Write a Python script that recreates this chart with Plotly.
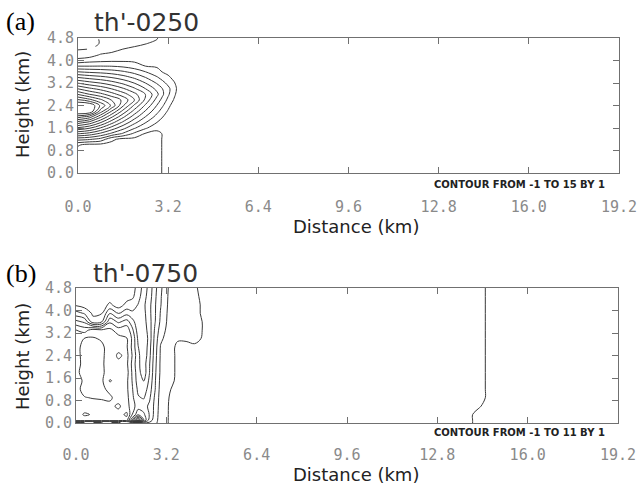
import plotly.graph_objects as go

# ---------------- panel (a): th' at t = 0250 ----------------
xa = [0, 0.4, 0.8, 1.2, 1.6, 2.0, 2.4, 2.8, 3.0, 3.2, 3.4, 3.6, 4.0, 19.2]
ya = [0, 0.4, 0.8, 1.0, 1.2, 1.4, 1.6, 1.8, 2.0, 2.2, 2.4, 2.6, 2.8, 3.0,
      3.2, 3.4, 3.6, 3.8, 4.0, 4.2, 4.4, 4.6, 4.8]
theta_a = [
    [-0.3, -0.3, -0.3, -0.3, -0.3, -0.3, -0.3, -0.3, 0.05, 0.3, 0.3, 0.3, 0.3, 0.3],
    [-0.3, -0.3, -0.3, -0.3, -0.3, -0.3, -0.3, -0.3, 0.05, 0.3, 0.3, 0.3, 0.3, 0.3],
    [-0.3, -0.3, -0.3, -0.3, -0.3, -0.3, -0.3, -0.3, 0.05, 0.3, 0.3, 0.3, 0.3, 0.3],
    [0.1, -0.3, -0.3, -0.3, -0.3, -0.3, -0.3, -0.3, 0.05, 0.3, 0.3, 0.3, 0.3, 0.3],
    [2.36, 2.13, 1.65, 0.2, -0.3, -0.3, -0.3, -0.3, 0.05, 0.3, 0.3, 0.3, 0.3, 0.3],
    [5.09, 4.64, 3.80, 2.79, 1.87, 0.8, -0.1, -0.3, 0.05, 0.3, 0.3, 0.3, 0.3, 0.3],
    [7.81, 7.15, 5.95, 4.58, 3.33, 2.12, 1.14, 0.29, 0.05, 0.3, 0.3, 0.3, 0.3, 0.3],
    [10.53, 9.67, 8.11, 6.37, 4.79, 3.30, 2.05, 1.01, 0.58, 0.3, 0.3, 0.3, 0.3, 0.3],
    [13.5, 12.6, 10.26, 8.16, 6.24, 4.48, 2.97, 1.65, 1.05, 0.42, 0.3, 0.3, 0.3, 0.3],
    [16.4, 16.2, 12.6, 9.95, 7.70, 5.65, 3.89, 2.31, 1.59, 0.88, 0.3, 0.3, 0.3, 0.3],
    [16.3, 16.1, 13.8, 11.74, 9.15, 6.83, 4.80, 2.96, 2.12, 1.32, 0.49, 0.3, 0.3, 0.3],
    [14.1, 13.3, 12.2, 10.91, 9.76, 8.01, 5.72, 3.62, 2.66, 1.74, 0.95, 0.3, 0.3, 0.3],
    [11.91, 11.0, 10.30, 9.42, 8.44, 7.31, 5.96, 4.27, 3.19, 2.17, 1.24, 0.45, 0.3, 0.3],
    [9.93, 9.20, 8.64, 7.93, 7.11, 6.14, 4.97, 3.69, 2.99, 2.25, 1.45, 0.5, 0.3, 0.3],
    [7.94, 7.40, 6.98, 6.44, 5.78, 4.97, 3.98, 2.90, 2.30, 1.72, 1.13, 0.45, 0.3, 0.3],
    [5.96, 5.60, 5.32, 4.95, 4.45, 3.80, 2.98, 2.11, 1.62, 1.19, 0.72, 0.3, 0.3, 0.3],
    [3.98, 3.79, 3.66, 3.46, 3.12, 2.64, 1.99, 1.32, 0.95, 0.70, 0.3, 0.3, 0.3, 0.3],
    [1.99, 1.99, 2.01, 1.97, 1.80, 1.47, 0.99, 0.89, 0.49, 0.3, 0.3, 0.3, 0.3, 0.3],
    [0.33, 0.61, 0.74, 0.82, 0.84, 0.81, 0.75, 0.70, 0.3, 0.3, 0.3, 0.3, 0.3, 0.3],
    [-0.6, -0.5, 0.10, 0.31, 0.43, 0.49, 0.5, 0.51, 0.3, 0.3, 0.3, 0.3, 0.3, 0.3],
    [-1.05, -0.98, -0.7, -0.4, 0.02, 0.17, 0.25, 0.33, 0.3, 0.3, 0.3, 0.3, 0.3, 0.3],
    [-1.4, -1.3, -0.95, -0.6, -0.4, -0.2, -0.02, 0.14, 0.3, 0.3, 0.3, 0.3, 0.3, 0.3],
    [-1.5, -1.4, -0.9, -0.7, -0.5, -0.3, -0.2, -0.05, 0.3, 0.3, 0.3, 0.3, 0.3, 0.3],
]
levels_a = (-1, 15, 1)

# ---------------- panel (b): th' at t = 0750 ----------------
xb = [0, 0.3, 0.6, 0.9, 1.2, 1.5, 1.8, 2.0, 2.2, 2.4, 2.6, 2.8, 3.0, 3.3,
      3.6, 3.9, 4.2, 4.5, 4.8, 6.0, 14.0, 14.3, 14.6, 19.2]
yb = [0, 0.1, 0.3, 0.6, 0.9, 1.2, 1.5, 1.8, 2.1, 2.4, 2.7, 3.0, 3.3, 3.6,
      3.9, 4.2, 4.5, 4.8]
theta_b = [
    [-1.5, -1.5, -1.5, -1.5, -1.5, -1.5, -1.5, -1.5, -1.2, 1.95, 1.8, 1.3, 0.4, -0.05, -0.2, -0.2, -0.2, -0.2, -0.2, -0.2, -0.02, 0.1, 0.1, 0.1],
    [1.4, 1.4, 1.4, 1.4, 1.4, 1.4, 1.4, 4.95, 9.5, 5.05, 2.5, 1.5, 0.4, -0.05, -0.2, -0.2, -0.2, -0.2, -0.2, -0.2, -0.02, 0.1, 0.1, 0.1],
    [1.4, 2.15, 1.9, 1.4, 1.5, 1.4, 0.8, 3.05, 4.8, 4.2, 2.95, 1.6, 0.45, -0.05, -0.2, -0.2, -0.2, -0.2, -0.2, -0.2, -0.02, 0.1, 0.1, 0.1],
    [1.4, 1.4, 1.4, 1.35, 1.3, 0.8, 1.6, 2.6, 3.5, 3.4, 2.8, 1.7, 0.5, -0.05, -0.2, -0.2, -0.2, -0.2, -0.2, -0.2, -0.2, -0.02, 0.1, 0.1],
    [1.3, 1.05, 0.95, 0.9, 0.8, 1.5, 1.7, 2.8, 3.9, 4.1, 3.2, 1.8, 0.55, -0.01, -0.2, -0.2, -0.2, -0.2, -0.2, -0.2, -0.2, -0.2, 0.1, 0.1],
    [1.3, 0.7, 0.6, 0.7, 1.3, 1.5, 1.8, 2.95, 4.2, 4.6, 3.5, 2.05, 0.6, 0.05, -0.2, -0.2, -0.2, -0.2, -0.2, -0.2, -0.2, -0.2, 0.1, 0.1],
    [1.5, 0.8, 0.6, 0.75, 2.1, 1.6, 1.8, 3.1, 4.5, 5.05, 3.8, 2.1, 0.7, 0.3, -0.2, -0.2, -0.2, -0.2, -0.2, -0.2, -0.2, -0.2, 0.1, 0.1],
    [1.25, 0.6, 0.6, 0.8, 1.4, 1.5, 1.6, 3.2, 4.6, 5.6, 4.05, 2.2, 0.8, 0.4, -0.2, -0.2, -0.2, -0.2, -0.2, -0.2, -0.2, -0.2, 0.1, 0.1],
    [1.3, 0.75, 0.6, 0.8, 1.5, 1.7, 1.8, 3.3, 4.8, 5.5, 4.1, 2.3, 0.8, 0.4, -0.2, -0.2, -0.2, -0.2, -0.2, -0.2, -0.2, -0.2, 0.1, 0.1],
    [1.4, 0.6, 0.6, 0.85, 1.3, 2.2, 1.7, 3.1, 4.7, 5.8, 4.3, 2.4, 0.85, 0.4, -0.2, -0.2, -0.2, -0.2, -0.2, -0.2, -0.2, -0.2, 0.1, 0.1],
    [1.3, 0.7, 0.6, 0.8, 1.4, 1.6, 1.9, 3.3, 4.95, 5.9, 4.4, 2.5, 0.9, 0.4, -0.2, -0.2, -0.2, -0.2, -0.2, -0.2, -0.2, -0.2, 0.1, 0.1],
    [1.5, 0.95, 0.9, 1.1, 1.5, 1.6, 1.95, 3.2, 5.2, 5.9, 4.6, 2.6, 1.2, 0.5, 0.1, 0.1, 0.3, -0.1, -0.2, -0.2, -0.2, -0.2, 0.1, 0.1],
    [1.95, 2.4, 1.5, 1.8, 1.7, 2.5, 2.3, 3.8, 5.5, 5.6, 4.5, 2.8, 1.5, 0.6, 0.55, 0.5, 0.45, -0.05, -0.2, -0.2, -0.2, -0.2, 0.1, 0.1],
    [3.7, 4.2, 6.6, 6.2, 3.2, 4.2, 3.6, 4.6, 5.8, 5.4, 4.4, 3.05, 1.8, 0.65, 0.6, 0.55, 0.45, -0.05, -0.2, -0.2, -0.2, -0.2, 0.1, 0.1],
    [5.6, 6.1, 7.2, 7.1, 5.05, 6.1, 5.3, 5.8, 5.9, 5.3, 4.3, 3.1, 1.9, 0.7, 0.6, 0.5, 0.4, -0.2, -0.2, -0.2, -0.2, -0.2, 0.1, 0.1],
    [7.15, 7.5, 7.5, 7.5, 6.8, 7.5, 6.7, 6.5, 5.95, 5.2, 4.3, 3.1, 2.05, 0.75, 0.55, 0.5, 0.4, -0.2, -0.2, -0.2, -0.2, -0.2, 0.1, 0.1],
    [7.5, 7.5, 7.5, 7.5, 7.5, 7.5, 7.4, 7.2, 6.4, 5.4, 4.5, 3.2, 2.1, 0.8, 0.6, 0.5, 0.2, -0.2, -0.2, -0.2, -0.2, -0.2, 0.1, 0.1],
    [7.6, 7.6, 7.6, 7.6, 7.6, 7.6, 7.5, 7.4, 6.6, 5.6, 4.6, 3.3, 2.2, 0.85, 0.6, 0.5, 0.1, -0.2, -0.2, -0.2, -0.2, -0.2, 0.1, 0.1],
]
levels_b = (-1, 11, 1)

# ---------------- axis ticks ----------------
x_tick_vals = [0, 3.2, 6.4, 9.6, 12.8, 16.0, 19.2]
x_tick_text = ["0.0", "3.2", "6.4", "9.6", "12.8", "16.0", "19.2"]
y_tick_vals = [0, 0.8, 1.6, 2.4, 3.2, 4.0, 4.8]
y_tick_text = ["0.0", "0.8", "1.6", "2.4", "3.2", "4.0", "4.8"]

W, H = 641, 488
LINE = "#3a3a3a"
FRAME = "#707070"

fig = go.Figure()


def add_field(x, y, z, levels, xref, yref):
    lo, hi, step = levels
    # negative contours dashed
    fig.add_trace(go.Contour(
        x=x, y=y, z=z, xaxis=xref, yaxis=yref, autocontour=False,
        contours=dict(start=lo, end=-1, size=step, coloring="none"),
        line=dict(color=LINE, width=1, dash="dash", smoothing=1.0),
        showscale=False, hoverinfo="skip"))
    # zero and positive contours solid
    fig.add_trace(go.Contour(
        x=x, y=y, z=z, xaxis=xref, yaxis=yref, autocontour=False,
        contours=dict(start=0, end=hi, size=step, coloring="none"),
        line=dict(color=LINE, width=1, smoothing=1.0),
        showscale=False, hoverinfo="skip"))


add_field(xa, ya, theta_a, levels_a, "x", "y")
add_field(xb, yb, theta_b, levels_b, "x2", "y2")

tickfont = dict(family="DejaVu Sans Mono", size=15, color="#8a8a8a")
xcommon = dict(range=[0, 19.2], tickvals=x_tick_vals, ticktext=x_tick_text,
               ticks="inside", ticklen=6, tickcolor=FRAME, showline=True,
               linecolor=FRAME, linewidth=1, mirror="allticks", showgrid=False,
               zeroline=False, tickfont=tickfont, automargin=False)
ycommon = dict(range=[0, 4.8], tickvals=y_tick_vals, ticktext=y_tick_text,
               ticks="inside", ticklen=6, tickcolor=FRAME, showline=True,
               linecolor=FRAME, linewidth=1, mirror="allticks", showgrid=False,
               zeroline=False, tickfont=tickfont, automargin=False)

fig.update_layout(
    template="none",
    width=W, height=H, margin=dict(l=0, r=0, t=0, b=0, pad=0, autoexpand=False),
    paper_bgcolor="white", plot_bgcolor="white", showlegend=False,
    xaxis=dict(domain=[78 / W, 619 / W], anchor="y", ticklabelstandoff=20, **xcommon),
    yaxis=dict(domain=[1 - 173 / H, 1 - 38 / H], anchor="x", **ycommon),
    xaxis2=dict(domain=[76 / W, 618 / W], anchor="y2", ticklabelstandoff=18, **xcommon),
    yaxis2=dict(domain=[1 - 423 / H, 1 - 288 / H], anchor="x2", **ycommon),
)

serif = dict(family="Liberation Serif", size=26, color="black")
titlef = dict(family="DejaVu Sans", size=25, color="#333333")
labf = dict(family="DejaVu Sans", size=18, color="#222222")
notef = dict(family="DejaVu Sans", size=10, color="#222222")

annos = [
    dict(text="(a)", x=4 / W, y=1 - 22 / H, xanchor="left", yanchor="middle", font=serif),
    dict(text="th'-0250", x=92 / W, y=1 - 23 / H, xanchor="left", yanchor="middle", font=titlef),
    dict(text="(b)", x=4 / W, y=1 - 273 / H, xanchor="left", yanchor="middle", font=serif),
    dict(text="th'-0750", x=91 / W, y=1 - 273 / H, xanchor="left", yanchor="middle", font=titlef),
    dict(text="Height (km)", x=22 / W, y=1 - 105 / H, textangle=-90, xanchor="center", yanchor="middle", font=labf),
    dict(text="Height (km)", x=22 / W, y=1 - 357 / H, textangle=-90, xanchor="center", yanchor="middle", font=labf),
    dict(text="Distance (km)", x=356 / W, y=1 - 226 / H, xanchor="center", yanchor="middle", font=labf),
    dict(text="Distance (km)", x=356 / W, y=1 - 474 / H, xanchor="center", yanchor="middle", font=labf),
    dict(text="<b>CONTOUR FROM -1 TO 15 BY 1</b>", x=607 / W, y=1 - 184 / H, xanchor="right", yanchor="middle", font=notef),
    dict(text="<b>CONTOUR FROM -1 TO 11 BY 1</b>", x=607 / W, y=1 - 432 / H, xanchor="right", yanchor="middle", font=notef),
]
for a in annos:
    a.update(xref="paper", yref="paper", showarrow=False)
fig.update_layout(annotations=annos)

fig.write_html("out.html", config={"displayModeBar": False},
               post_script="document.body.style.margin='0px';document.body.style.overflow='hidden';")
